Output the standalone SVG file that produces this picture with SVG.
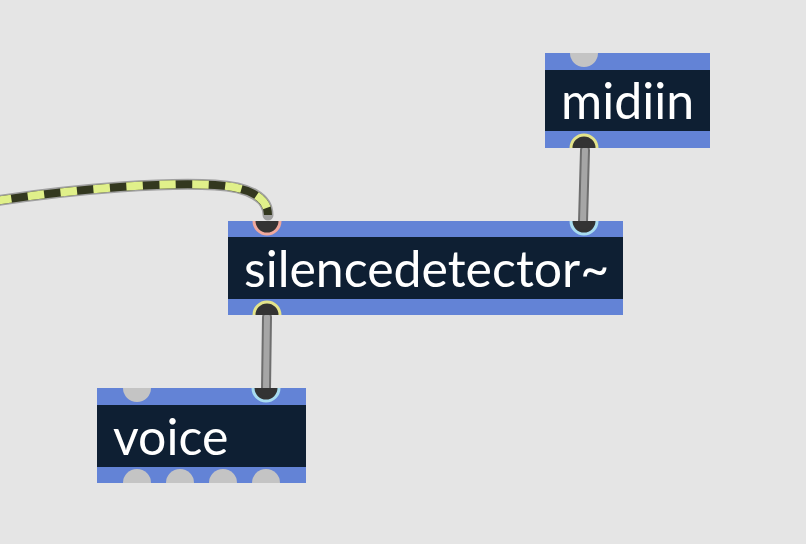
<svg xmlns="http://www.w3.org/2000/svg" width="806" height="544" viewBox="0 0 806 544">
<style>
.band{fill:#6383d6}
.body{fill:#0e1f33}
.lbl{font-family:Lato,"Open Sans",sans-serif;font-size:50px;fill:#ffffff}
.gp{fill:#c4c4c4}
.ap{fill:#333333;stroke-width:3}
.yel{stroke:#e4e48a}
.pnk{stroke:#f0a89c}
.cyn{stroke:#a8dcf0}
.cab-o{fill:none;stroke:#6e6e6e;stroke-width:10;stroke-linecap:round}
.cab-i{fill:none;stroke:#a6a6a6;stroke-width:6;stroke-linecap:round}
.sig-o{fill:none;stroke:#a0a0a0;stroke-width:11;stroke-linecap:round}
.sig-a{fill:none;stroke:#33381f;stroke-width:8}
.sig-b{fill:none;stroke:#e0f08a;stroke-width:8;stroke-dasharray:16.5 16.5}
</style>
<rect width="806" height="544" fill="#e5e5e5"/>
<g id="midiin">
<rect class="band" x="545" y="53" width="165" height="95"/>
<rect class="body" x="545" y="70" width="165" height="61"/>
<path class="gp" d="M570 53 A14 14 0 0 0 598 53 Z"/>
<path class="ap yel" d="M571 148 A13 13 0 0 1 597 148"/>
<text class="lbl" x="561" y="119">midiin</text>
</g>
<g id="silencedetector">
<rect class="band" x="228" y="221" width="395" height="94"/>
<rect class="body" x="228" y="237" width="395" height="62"/>
<path class="ap pnk" d="M254 221 A13 13 0 0 0 280 221"/>
<path class="ap cyn" d="M571 221 A13 13 0 0 0 597 221"/>
<path class="ap yel" d="M254 315 A13 13 0 0 1 280 315"/>
<text class="lbl" x="244" y="287">silencedetector~</text>
</g>
<g id="voice">
<rect class="band" x="97" y="388" width="209" height="95"/>
<rect class="body" x="97" y="405" width="209" height="62"/>
<path class="gp" d="M123 388 A14 14 0 0 0 151 388 Z"/>
<path class="ap cyn" d="M253 388 A13 13 0 0 0 279 388"/>
<path class="gp" d="M123 483 A14 14 0 0 1 151 483 Z"/>
<path class="gp" d="M166 483 A14 14 0 0 1 194 483 Z"/>
<path class="gp" d="M209 483 A14 14 0 0 1 237 483 Z"/>
<path class="gp" d="M252 483 A14 14 0 0 1 280 483 Z"/>
<text class="lbl" x="113" y="455">voice</text>
</g>
<g id="connectors">
<path class="cab-o" d="M585 150 L583 222"/>
<path class="cab-i" d="M585 150 L583 222"/>
<path class="cab-o" d="M267 317 L266 389"/>
<path class="cab-i" d="M267 317 L266 389"/>
<path class="sig-o" d="M-5 201 C 80 188, 170 182, 215 185 C 250 187, 268 198, 268 215"/>
<path class="sig-a" d="M-5 201 C 80 188, 170 182, 215 185 C 250 187, 268 198, 268 215"/>
<path class="sig-b" d="M-5 201 C 80 188, 170 182, 215 185 C 250 187, 268 198, 268 215"/>
<path fill="#333333" d="M574 221 A9 9 0 0 0 592 221 Z"/>
<path fill="#333333" d="M257 388 A9 9 0 0 0 275 388 Z"/>
<path fill="#333333" d="M576 148 A9 9 0 0 1 594 148 Z"/>
<path fill="#333333" d="M258 315 A9 9 0 0 1 276 315 Z"/>
</g>
</svg>
